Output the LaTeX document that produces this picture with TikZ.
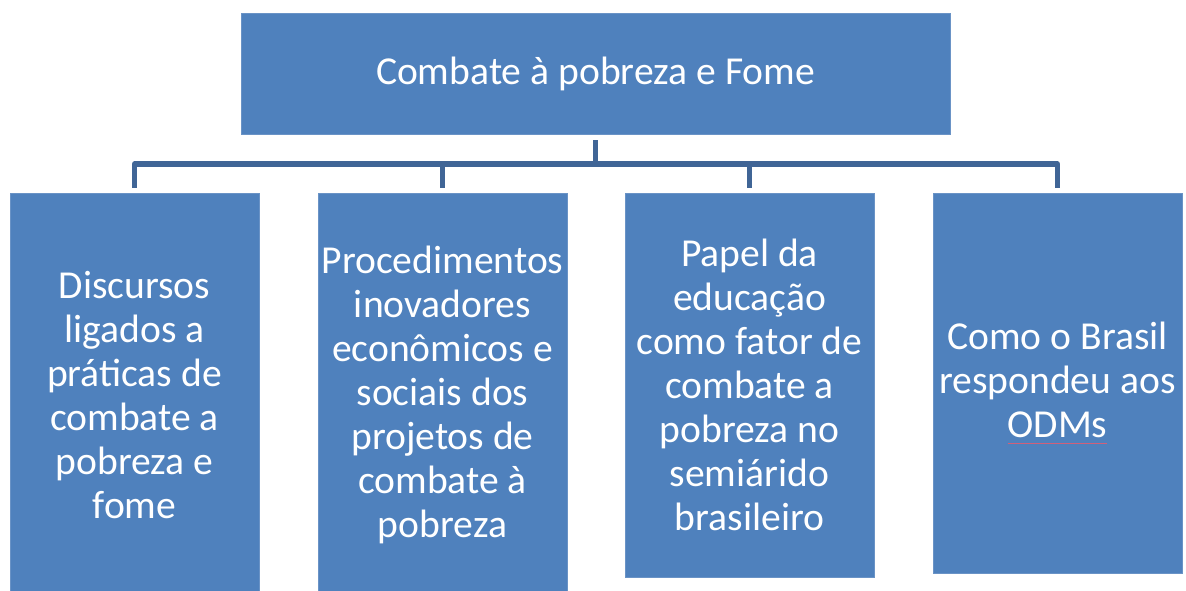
\documentclass[tikz,border=0pt]{standalone}
\usepackage{fontspec}
\setmainfont{Carlito}
\definecolor{boxblue}{HTML}{4F81BD}
\definecolor{boxedge}{HTML}{6A93C6}
\definecolor{linkblue}{HTML}{406596}
\definecolor{spellred}{HTML}{D0607A}
\newcommand{\spellmark}[1]{\setbox0\hbox{#1}\rlap{\color{spellred}\rule[-3pt]{\wd0}{0.6pt}}\box0}

\begin{document}
\begin{tikzpicture}[x=0.5pt,y=-0.5pt]
\tikzset{ box/.style={fill=boxblue, draw=boxedge, line width=0.4pt, text=white, align=center, inner sep=0pt, minimum width=124.5pt, font=\fontsize{19.8}{22}\selectfont},
 link/.style={draw=linkblue, line width=2.6pt, line join=round, shorten <=3pt, shorten >=2.5pt}}
\useasboundingbox (0,0) rectangle (1186,590);
\clip (0,0) rectangle (1186,590);

\node[box, minimum width=354.5pt, minimum height=60.5pt] (top) at (595.5,73.5) {Combate à pobreza e Fome};

\node[box, minimum height=202pt] (disc) at (134.5,395) {Discursos\\ligados a\\práticas de\\combate a\\pobreza e\\fome};
\node[box, minimum height=202pt] (proc) at (442.5,395) {Procedimentos\\inovadores\\econômicos e\\sociais dos\\projetos de\\combate à\\pobreza};
\node[box, minimum height=192pt] (educ) at (749.5,385) {Papel da\\educação\\como fator de\\combate a\\pobreza no\\semiárido\\brasileiro};
\node[box, minimum height=190pt] (odm) at (1057.5,383) {Como o Brasil\\respondeu aos\\\spellmark{ODMs}};

\coordinate (bus) at (0,164);
\foreach \b in {disc,proc,educ,odm}
  \draw[link] (top.south) -- (top.south |- bus) -| (\b.north);
\end{tikzpicture}
\end{document}
